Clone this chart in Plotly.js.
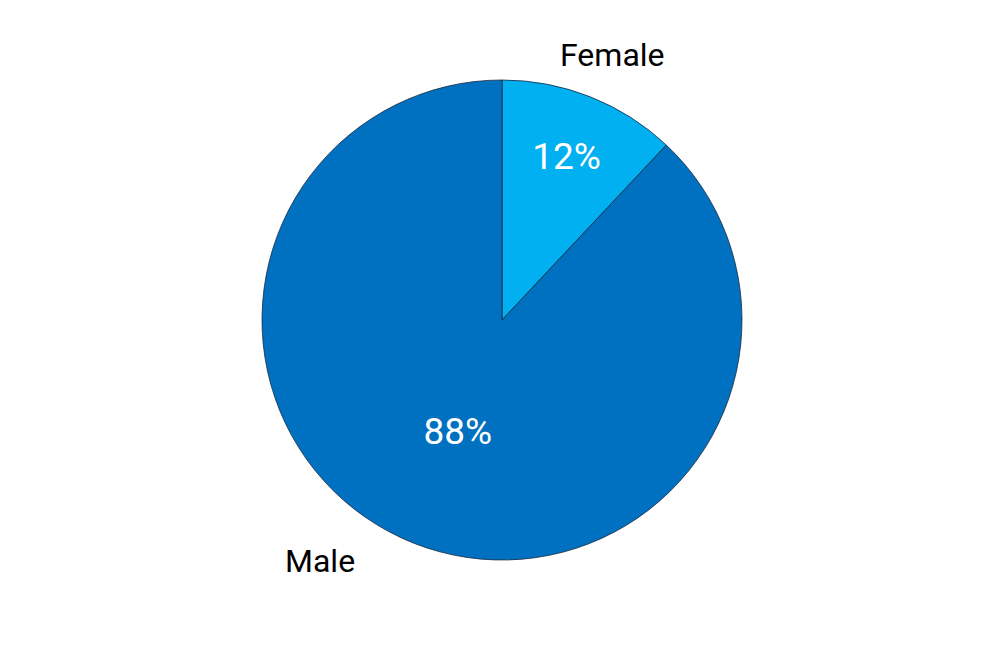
<!DOCTYPE html>
<html>
<head>
<meta charset="utf-8">
<script src="https://cdn.plot.ly/plotly-3.0.1.min.js"></script>
<style>html,body{margin:0;padding:0;background:#fff;}#chart{width:996px;height:664px;}</style>
</head>
<body>
<div id="chart"></div>
<script>
const labels = ["Female", "Male"];
const values = [12, 88];
const colors = ["#00B0F0", "#0070C0"];

const trace = {
  type: "pie",
  labels: labels,
  values: values,
  sort: false,
  direction: "clockwise",
  rotation: 0,
  marker: { colors: colors, line: { color: "#1a2a40", width: 0.8 } },
  textinfo: "percent",
  texttemplate: "%{percent:.0%}",
  textposition: "inside",
  insidetextorientation: "horizontal",
  insidetextfont: { family: "Liberation Sans Narrow, Roboto", size: 37, color: "#ffffff" },
  hoverinfo: "label+percent",
  showlegend: false,
  domain: { x: [262/996, 742/996], y: [(664-560)/664, (664-80)/664] }
};

const layout = {
  width: 996,
  height: 664,
  margin: { l: 0, r: 0, t: 0, b: 0 },
  paper_bgcolor: "#ffffff",
  showlegend: false,
  annotations: [
    { text: labels[0], x: 612/996, y: 1 - 55/664, xref: "paper", yref: "paper",
      showarrow: false, xanchor: "center", yanchor: "middle",
      font: { family: "Roboto", size: 32, color: "#000000" } },
    { text: labels[1], x: 320/996, y: 1 - 561/664, xref: "paper", yref: "paper",
      showarrow: false, xanchor: "center", yanchor: "middle",
      font: { family: "Roboto", size: 32, color: "#000000" } }
  ]
};

Plotly.newPlot("chart", [trace], layout, { displayModeBar: false, staticPlot: true });
</script>
</body>
</html>
